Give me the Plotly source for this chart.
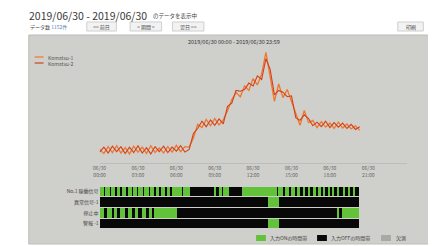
import plotly.graph_objects as go

W, H = 436, 246
OFF = 8  # page body margin offsets the figure by 8px
FONT = "Noto Sans CJK JP"

# ---------------- data ----------------
TIME_HOURS = [i / 3 for i in range(62)]  # 20-minute samples from 00:00
SERIES_NAMES = ["Komatsu-1", "Komatsu-2"]
SERIES_A = [17.0, 16.1, 17.6, 16.3, 17.8, 16.2, 17.4, 16.0, 17.7, 16.4, 17.5, 16.1, 17.8, 16.3, 17.3, 16.2,
            17.6, 16.4, 17.9, 16.5, 17.6,
            17.5,
            19.5, 22.5, 21.8, 23.6, 22.2, 23.8, 22.4, 23.5,
            25.5, 28.0, 29.5, 28.6, 31.0, 30.0, 32.6, 31.2, 33.6, 38.4,
            33.0, 27.6, 31.4, 28.4, 30.2, 27.6, 25.0, 22.3, 25.6, 22.9,
            23.4, 21.8, 23.1, 21.9, 22.8, 21.6, 23.0, 21.7, 22.6, 21.5,
            22.2, 21.2]
SERIES_B = [16.4, 17.5, 16.2, 17.7, 16.5, 17.6, 16.1, 17.5, 16.3, 17.8, 16.2, 17.4, 16.0, 17.6, 16.5, 17.7,
            16.3, 17.5, 16.6, 17.8, 16.4,
            17.0,
            20.5, 21.6, 23.2, 22.0, 23.5, 22.3, 23.7, 22.6,
            26.5, 27.2, 30.0, 29.8, 30.2, 31.6, 31.0, 33.2, 32.4, 37.0,
            34.6, 29.0, 30.0, 29.6, 28.6, 28.8, 24.0, 23.4, 24.6, 23.8,
            22.2, 23.0, 22.0, 23.2, 21.8, 22.9, 21.9, 22.8, 21.6, 22.5,
            21.4, 22.0]

TICK_HOURS = [0, 3, 6, 9, 12, 15, 18, 21]
TICK_LABELS = ["06/30<br>00:00", "06/30<br>03:00", "06/30<br>06:00", "06/30<br>09:00",
               "06/30<br>12:00", "06/30<br>15:00", "06/30<br>18:00", "06/30<br>21:00"]

ROW_LABELS = ["No.1 稼働信号", "異常信号-1", "停止中", "警報 -1"]
DATA_SPAN = (0.0, 20.25)
ON_ROW1 = [(0, 0.3), (0.4, 0.75), (0.85, 1.2), (1.3, 1.6), (1.72, 2.05), (2.15, 2.5), (2.6, 2.9),
           (3.0, 3.35), (3.45, 3.8), (3.9, 4.25), (4.35, 4.65), (4.75, 5.1), (5.2, 5.5), (5.6, 6.4),
           (6.5, 7.0), (8.9, 9.1), (9.3, 9.5), (9.65, 10.1), (11.1, 13.8), (13.9, 14.3), (14.45, 14.8),
           (14.95, 15.25), (15.4, 15.65), (15.85, 16.05), (16.3, 16.45), (16.7, 16.85), (17.1, 17.25),
           (17.5, 17.6), (17.85, 17.95), (18.2, 18.3), (18.6, 18.68), (19.0, 19.08), (19.4, 19.47),
           (19.8, 19.87)]
ON_ROW2 = [(13.1, 14.0)]
ON_ROW3 = [(0, 0.35), (0.55, 0.9), (1.1, 1.35), (1.6, 1.95), (2.15, 2.5), (2.7, 3.0), (3.25, 3.6),
           (3.8, 4.05), (4.25, 6.0), (18.55, 18.7), (18.95, 20.25)]
ON_ROW4 = [(13.1, 14.0)]
ON_ROWS = [ON_ROW1, ON_ROW2, ON_ROW3, ON_ROW4]

STATE_LEGEND = ["入力ONの時間帯", "入力OFFの時間帯", "欠測"]

# ---------------- styles ----------------
ORANGE = "#f0782c"
RED = "#d2401c"
GREEN = "#62c23a"
BLACK = "#080808"
PANEL = "#cfcfcb"


def px(x):
    return (x - OFF) / W


def py(y):
    return 1 - (y - OFF) / H


fig = go.Figure()

fig.add_trace(go.Scatter(x=TIME_HOURS, y=SERIES_A, mode="lines", name=SERIES_NAMES[0],
                         line=dict(color=ORANGE, width=1.3), xaxis="x", yaxis="y"))
fig.add_trace(go.Scatter(x=TIME_HOURS, y=SERIES_B, mode="lines", name=SERIES_NAMES[1],
                         line=dict(color=RED, width=1.1), xaxis="x", yaxis="y"))

# OFF (recorded span) bars
fig.add_trace(go.Bar(y=ROW_LABELS, x=[DATA_SPAN[1] - DATA_SPAN[0]] * 4, base=[DATA_SPAN[0]] * 4,
                     orientation="h", marker=dict(color=BLACK, line=dict(width=0)), width=0.9,
                     xaxis="x2", yaxis="y2", hoverinfo="skip"))
# ON bars
for lab, segs in zip(ROW_LABELS, ON_ROWS):
    fig.add_trace(go.Bar(y=[lab] * len(segs), x=[e - s for s, e in segs], base=[s for s, e in segs],
                         orientation="h", marker=dict(color=GREEN, line=dict(width=0)), width=0.9,
                         xaxis="x2", yaxis="y2", hoverinfo="skip"))

shapes = []
# panel
shapes.append(dict(type="rect", xref="paper", yref="paper", x0=px(22), x1=px(446), y0=py(244), y1=py(35),
                   fillcolor=PANEL, line=dict(color="#bcbcb8", width=1), layer="below"))
# buttons
for x0, x1 in [(81, 111), (125, 157), (168, 200), (397, 423)]:
    shapes.append(dict(type="rect", xref="paper", yref="paper", x0=px(x0), x1=px(x1), y0=py(31), y1=py(22),
                       fillcolor="#f2f2f2", line=dict(color="#cfcfcf", width=1), layer="below"))

# series legend samples
shapes.append(dict(type="line", xref="paper", yref="paper", x0=px(28), x1=px(37), y0=py(57), y1=py(57),
                   line=dict(color=ORANGE, width=1.2)))
shapes.append(dict(type="line", xref="paper", yref="paper", x0=px(28), x1=px(37), y0=py(63), y1=py(63),
                   line=dict(color=RED, width=1.2)))
# state legend boxes
for (x0, x1), col in zip([(253, 263), (315, 325), (380, 390)], [GREEN, BLACK, "#a8a8a4"]):
    shapes.append(dict(type="rect", xref="paper", yref="paper", x0=px(x0), x1=px(x1), y0=py(241), y1=py(235),
                       fillcolor=col, line=dict(width=0)))

ann = []


def text(x, y, s, size, color="#444", anchor="left"):
    ann.append(dict(xref="paper", yref="paper", x=px(x), y=py(y), text=s, showarrow=False,
                    xanchor=anchor, yanchor="middle", font=dict(size=size, color=color, family=FONT)))


text(20, 16, "2019/06/30 - 2019/06/30", 10.5, "#3a3a3a")
text(146, 16, "のデータを表示中", 5.5, "#444")
text(21, 27, "データ数 <span style='color:#5a7fb5'>1152件</span>", 5, "#444")
text(96, 26.5, "<< 前日", 5, "#444", "center")
text(141, 26.5, "< 期間 >", 5, "#444", "center")
text(184, 26.5, "翌日 >>", 5, "#444", "center")
text(410, 26.5, "印刷", 5, "#444", "center")
text(231, 42, "2019/06/30 00:00 - 2019/06/30 23:59", 5.5, "#333", "center")
text(40, 57, SERIES_NAMES[0], 5, "#555")
text(40, 63, SERIES_NAMES[1], 5, "#555")
text(265, 238, STATE_LEGEND[0], 5, "#444")
text(327, 238, STATE_LEGEND[1], 5, "#444")
text(393, 238, STATE_LEGEND[2], 5, "#444")

fig.update_layout(
    width=W, height=H, autosize=False,
    margin=dict(l=0, r=0, t=0, b=0),
    paper_bgcolor="white", plot_bgcolor="rgba(0,0,0,0)",
    showlegend=False, barmode="overlay", bargap=0,
    font=dict(family=FONT),
    shapes=shapes, annotations=ann,
    xaxis=dict(domain=[px(94), px(406)], range=[0, 24], tickvals=TICK_HOURS, ticktext=TICK_LABELS,
               tickfont=dict(size=5, color="#666"), showgrid=False, zeroline=False,
               showline=True, linecolor="#bdbdb9", linewidth=1, ticks="", anchor="y"),
    yaxis=dict(domain=[py(163), py(45)], range=[14, 40], visible=False),
    xaxis2=dict(domain=[px(94), px(406)], range=[0, 24], visible=False, anchor="y2"),
    yaxis2=dict(domain=[py(229), py(186)], type="category", categoryarray=ROW_LABELS,
                autorange="reversed", tickfont=dict(size=5, color="#444"), showgrid=False,
                zeroline=False, ticks="", anchor="x2", showline=False),
)

fig.write_html("out.html")
